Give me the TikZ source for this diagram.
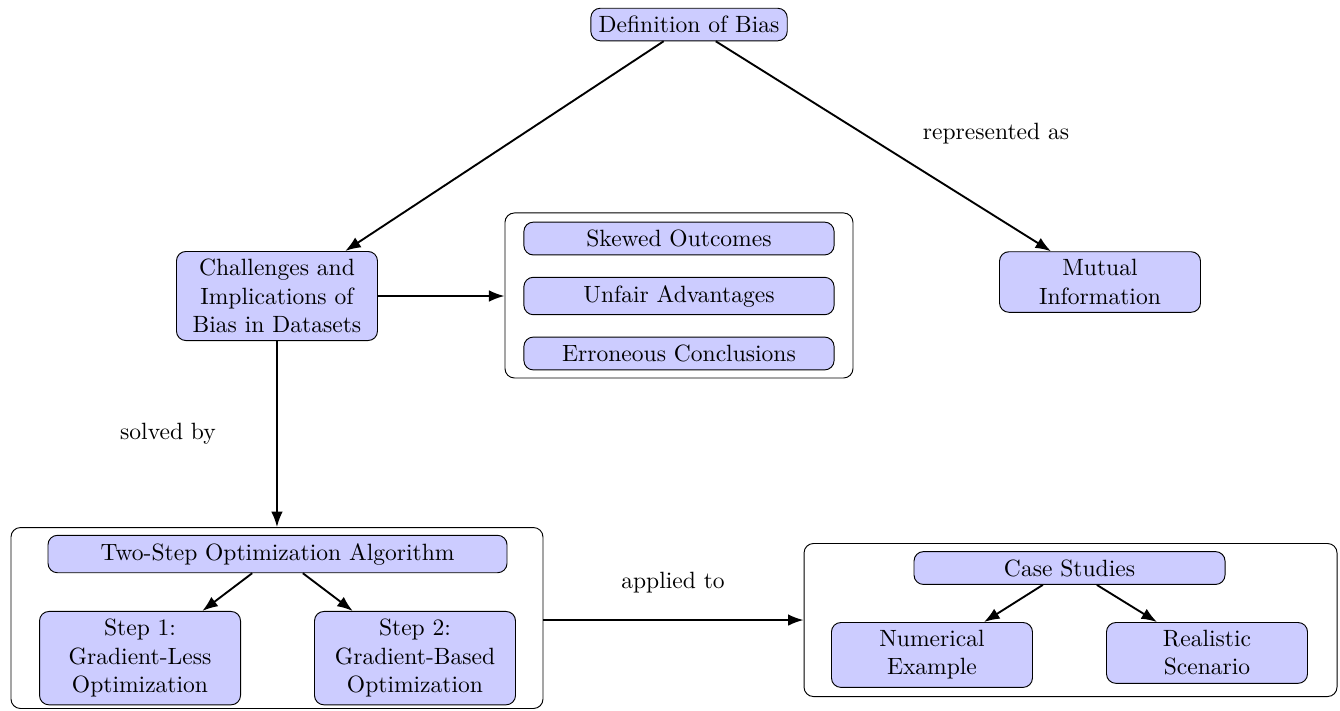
\documentclass[tikz,border=0pt]{standalone}
\usetikzlibrary{arrows.meta}
\hyphenpenalty=10000

\begin{document}
\begin{tikzpicture}[
  >=Latex,
  box/.style={draw, rounded corners, fill=blue!20, align=center},
  wide/.style={box, minimum width=3cm, text width=2.65cm}, % two/three line boxes
  item/.style={box, minimum width=4.63cm},
  group/.style={draw, rounded corners, inner sep=0pt},
  link/.style={->, thick}
  ]
  \useasboundingbox (0,0) rectangle (20,-10.597);

  \node[box] (def) at (10.284,-0.366) {Definition of Bias};
  \node[wide] (chal) at (4.134,-4.418) {Challenges and Implications of Bias in Datasets};
  \node[wide] (mut) at (16.418,-4.209) {Mutual Information};

  % implications
  \node[group, minimum width=5.194cm, minimum height=2.463cm] (grpA) at (10.134,-4.410) {};
  \node[item] (skew) at (10.134,-3.560) {Skewed Outcomes};
  \node[item] (unfair) at (10.134,-4.418) {Unfair Advantages};
  \node[item] (err) at (10.134,-5.276) {Erroneous Conclusions};

  % algorithm
  \node[group, minimum width=7.94cm, minimum height=2.70cm] (grpB) at (4.134,-9.224) {};
  \node[box, minimum width=6.851cm] (two) at (4.142,-8.269) {Two-Step Optimization Algorithm};
  \node[wide, anchor=north] (stepA) at (2.090,-9.119) {Step 1: Gradient-Less Optimization};
  \node[wide, anchor=north] (stepB) at (6.194,-9.119) {Step 2: Gradient-Based Optimization};

  % case studies
  \node[group, minimum width=7.955cm, minimum height=2.284cm] (grpC) at (15.978,-9.254) {};
  \node[box, minimum width=4.642cm] (case) at (15.963,-8.478) {Case Studies};
  \node[wide, anchor=north] (num) at (13.910,-9.284) {Numerical Example};
  \node[wide, anchor=north] (real) at (18.015,-9.284) {Realistic Scenario};

  \node (rep) at (14.866,-2.0) {represented as};
  \node (solv) at (2.507,-6.478) {solved by};
  \node (appl) at (10.045,-8.701) {applied to};

  \draw[link] (def) -- (chal);
  \draw[link] (def) -- (mut);
  \draw[link] (chal.east) -- (chal.east -| grpA.west);
  \draw[link] (chal) -- (chal |- grpB.north);
  \draw[link] (two) -- (stepA);
  \draw[link] (two) -- (stepB);
  \draw[link] (grpC.west -| grpB.east) -- (grpC.west);
  \draw[link] (case) -- (num);
  \draw[link] (case) -- (real);
\end{tikzpicture}
\end{document}
